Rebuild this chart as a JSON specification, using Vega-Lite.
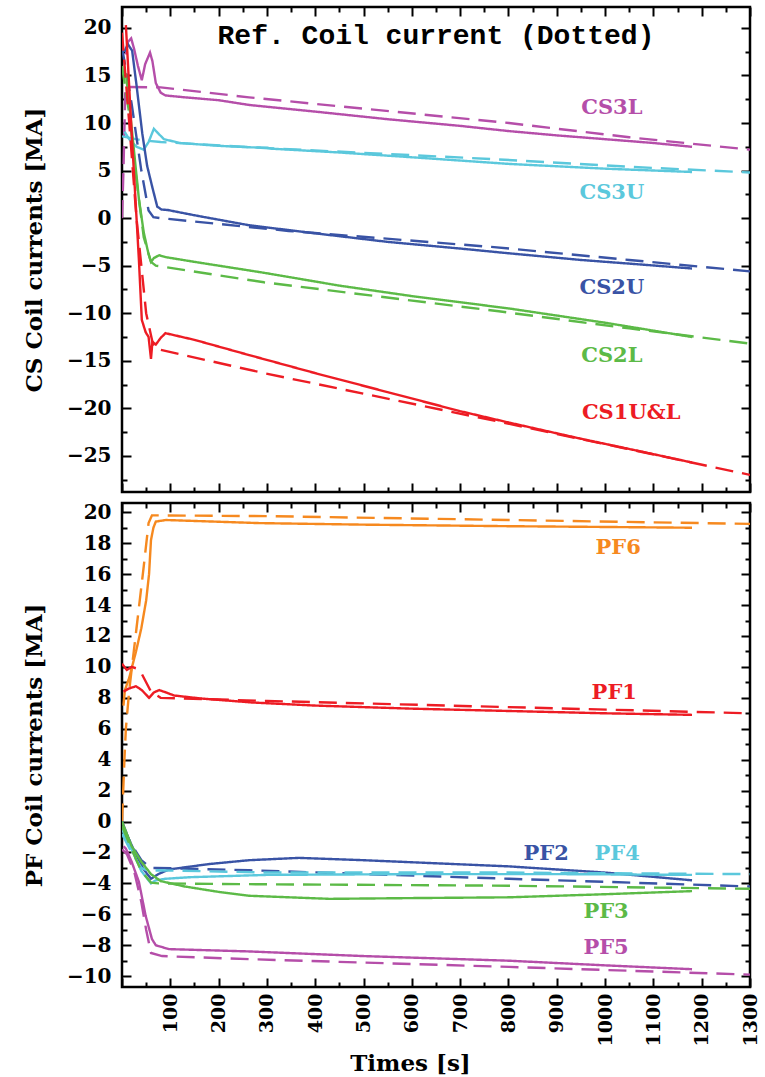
{
  "$schema": "https://vega.github.io/schema/vega-lite/v6.json",
  "padding": {"left": 22, "top": 4, "right": 5, "bottom": 5},
  "background": "white",
  "config": {
    "view": {"stroke": "black", "strokeWidth": 2.5},
    "axis": {"domain": false, "grid": false, "labelFont": "DejaVu Serif", "labelFontWeight": "bold", "labelFontSize": 20, "labelColor": "black", "titleFont": "DejaVu Serif", "titleFontWeight": "bold", "titleFontSize": 23, "titleColor": "black", "tickColor": "black", "tickWidth": 2, "labelFlush": false, "labelOverlap": false},
    "text": {"font": "DejaVu Serif", "fontWeight": "bold", "fontSize": 21}
  },
  "datasets": {
    "cs": [
      {"coil":"CS3L","kind":"sim","t":8,"v":17.2},{"coil":"CS3L","kind":"sim","t":12,"v":18.5},{"coil":"CS3L","kind":"sim","t":19,"v":18.9},{"coil":"CS3L","kind":"sim","t":25,"v":17.8},{"coil":"CS3L","kind":"sim","t":33,"v":16},{"coil":"CS3L","kind":"sim","t":41,"v":14.5},{"coil":"CS3L","kind":"sim","t":48,"v":16.2},{"coil":"CS3L","kind":"sim","t":58,"v":17.4},{"coil":"CS3L","kind":"sim","t":63,"v":16.5},{"coil":"CS3L","kind":"sim","t":70,"v":14.2},{"coil":"CS3L","kind":"sim","t":80,"v":13.2},{"coil":"CS3L","kind":"sim","t":90,"v":12.9},{"coil":"CS3L","kind":"sim","t":130,"v":12.7},{"coil":"CS3L","kind":"sim","t":200,"v":12.4},{"coil":"CS3L","kind":"sim","t":263,"v":11.9},{"coil":"CS3L","kind":"sim","t":400,"v":11.2},{"coil":"CS3L","kind":"sim","t":550,"v":10.4},{"coil":"CS3L","kind":"sim","t":700,"v":9.7},{"coil":"CS3L","kind":"sim","t":801,"v":9.15},{"coil":"CS3L","kind":"sim","t":900,"v":8.7},{"coil":"CS3L","kind":"sim","t":1000,"v":8.3},{"coil":"CS3L","kind":"sim","t":1100,"v":7.9},{"coil":"CS3L","kind":"sim","t":1180,"v":7.5},
      {"coil":"CS3L","kind":"ref","t":0,"v":0},{"coil":"CS3L","kind":"ref","t":3,"v":5},{"coil":"CS3L","kind":"ref","t":7,"v":13.8},{"coil":"CS3L","kind":"ref","t":80,"v":13.75},{"coil":"CS3L","kind":"ref","t":263,"v":12.7},{"coil":"CS3L","kind":"ref","t":801,"v":10.0},{"coil":"CS3L","kind":"ref","t":1050,"v":8.5},{"coil":"CS3L","kind":"ref","t":1300,"v":7.2},
      {"coil":"CS3U","kind":"sim","t":5,"v":9.1},{"coil":"CS3U","kind":"sim","t":15,"v":8.3},{"coil":"CS3U","kind":"sim","t":30,"v":7.5},{"coil":"CS3U","kind":"sim","t":45,"v":7.2},{"coil":"CS3U","kind":"sim","t":55,"v":8},{"coil":"CS3U","kind":"sim","t":66,"v":9.4},{"coil":"CS3U","kind":"sim","t":75,"v":8.9},{"coil":"CS3U","kind":"sim","t":87,"v":8.3},{"coil":"CS3U","kind":"sim","t":120,"v":7.9},{"coil":"CS3U","kind":"sim","t":200,"v":7.6},{"coil":"CS3U","kind":"sim","t":263,"v":7.45},{"coil":"CS3U","kind":"sim","t":300,"v":7.4},{"coil":"CS3U","kind":"sim","t":310,"v":7.3},{"coil":"CS3U","kind":"sim","t":450,"v":6.9},{"coil":"CS3U","kind":"sim","t":600,"v":6.4},{"coil":"CS3U","kind":"sim","t":801,"v":5.7},{"coil":"CS3U","kind":"sim","t":1000,"v":5.2},{"coil":"CS3U","kind":"sim","t":1180,"v":4.85},
      {"coil":"CS3U","kind":"ref","t":0,"v":8.6},{"coil":"CS3U","kind":"ref","t":40,"v":8.2},{"coil":"CS3U","kind":"ref","t":80,"v":8.0},{"coil":"CS3U","kind":"ref","t":305,"v":7.35},{"coil":"CS3U","kind":"ref","t":770,"v":6.2},{"coil":"CS3U","kind":"ref","t":1050,"v":5.4},{"coil":"CS3U","kind":"ref","t":1300,"v":4.8},
      {"coil":"CS2U","kind":"sim","t":5,"v":17.5},{"coil":"CS2U","kind":"sim","t":12,"v":18.3},{"coil":"CS2U","kind":"sim","t":21,"v":17.6},{"coil":"CS2U","kind":"sim","t":30,"v":14},{"coil":"CS2U","kind":"sim","t":42,"v":8.9},{"coil":"CS2U","kind":"sim","t":52,"v":5.5},{"coil":"CS2U","kind":"sim","t":63,"v":3.2},{"coil":"CS2U","kind":"sim","t":73,"v":1.2},{"coil":"CS2U","kind":"sim","t":82,"v":0.9},{"coil":"CS2U","kind":"sim","t":95,"v":0.85},{"coil":"CS2U","kind":"sim","t":150,"v":0.3},{"coil":"CS2U","kind":"sim","t":263,"v":-0.75},{"coil":"CS2U","kind":"sim","t":400,"v":-1.6},{"coil":"CS2U","kind":"sim","t":550,"v":-2.5},{"coil":"CS2U","kind":"sim","t":700,"v":-3.2},{"coil":"CS2U","kind":"sim","t":801,"v":-3.7},{"coil":"CS2U","kind":"sim","t":950,"v":-4.4},{"coil":"CS2U","kind":"sim","t":1080,"v":-4.9},{"coil":"CS2U","kind":"sim","t":1180,"v":-5.3},
      {"coil":"CS2U","kind":"ref","t":0,"v":18},{"coil":"CS2U","kind":"ref","t":20,"v":12},{"coil":"CS2U","kind":"ref","t":40,"v":5},{"coil":"CS2U","kind":"ref","t":55,"v":0.8},{"coil":"CS2U","kind":"ref","t":65,"v":0.1},{"coil":"CS2U","kind":"ref","t":80,"v":0},{"coil":"CS2U","kind":"ref","t":345,"v":-1.35},{"coil":"CS2U","kind":"ref","t":770,"v":-3.05},{"coil":"CS2U","kind":"ref","t":1050,"v":-4.4},{"coil":"CS2U","kind":"ref","t":1300,"v":-5.6},
      {"coil":"CS2L","kind":"sim","t":8,"v":15.2},{"coil":"CS2L","kind":"sim","t":15,"v":12},{"coil":"CS2L","kind":"sim","t":25,"v":7},{"coil":"CS2L","kind":"sim","t":35,"v":2},{"coil":"CS2L","kind":"sim","t":45,"v":-1.5},{"coil":"CS2L","kind":"sim","t":55,"v":-3.8},{"coil":"CS2L","kind":"sim","t":60,"v":-4.6},{"coil":"CS2L","kind":"sim","t":66,"v":-4.2},{"coil":"CS2L","kind":"sim","t":77,"v":-3.9},{"coil":"CS2L","kind":"sim","t":90,"v":-4.1},{"coil":"CS2L","kind":"sim","t":150,"v":-4.6},{"coil":"CS2L","kind":"sim","t":263,"v":-5.5},{"coil":"CS2L","kind":"sim","t":300,"v":-5.8},{"coil":"CS2L","kind":"sim","t":450,"v":-7.1},{"coil":"CS2L","kind":"sim","t":600,"v":-8.2},{"coil":"CS2L","kind":"sim","t":801,"v":-9.5},{"coil":"CS2L","kind":"sim","t":1000,"v":-11.0},{"coil":"CS2L","kind":"sim","t":1180,"v":-12.5},
      {"coil":"CS2L","kind":"ref","t":0,"v":16},{"coil":"CS2L","kind":"ref","t":15,"v":11},{"coil":"CS2L","kind":"ref","t":30,"v":4},{"coil":"CS2L","kind":"ref","t":45,"v":-2},{"coil":"CS2L","kind":"ref","t":60,"v":-4.6},{"coil":"CS2L","kind":"ref","t":70,"v":-5.0},{"coil":"CS2L","kind":"ref","t":294,"v":-6.75},{"coil":"CS2L","kind":"ref","t":780,"v":-9.8},{"coil":"CS2L","kind":"ref","t":1050,"v":-11.6},{"coil":"CS2L","kind":"ref","t":1300,"v":-13.2},
      {"coil":"CS1U&L","kind":"sim","t":8,"v":20.3},{"coil":"CS1U&L","kind":"sim","t":20,"v":9},{"coil":"CS1U&L","kind":"sim","t":35,"v":-4.4},{"coil":"CS1U&L","kind":"sim","t":41,"v":-10.7},{"coil":"CS1U&L","kind":"sim","t":49,"v":-12},{"coil":"CS1U&L","kind":"sim","t":55,"v":-12.5},{"coil":"CS1U&L","kind":"sim","t":60,"v":-14.8},{"coil":"CS1U&L","kind":"sim","t":63,"v":-13},{"coil":"CS1U&L","kind":"sim","t":70,"v":-13.3},{"coil":"CS1U&L","kind":"sim","t":80,"v":-12.6},{"coil":"CS1U&L","kind":"sim","t":90,"v":-12.1},{"coil":"CS1U&L","kind":"sim","t":150,"v":-12.8},{"coil":"CS1U&L","kind":"sim","t":263,"v":-14.4},{"coil":"CS1U&L","kind":"sim","t":400,"v":-16.3},{"coil":"CS1U&L","kind":"sim","t":550,"v":-18.3},{"coil":"CS1U&L","kind":"sim","t":700,"v":-20.3},{"coil":"CS1U&L","kind":"sim","t":801,"v":-21.5},{"coil":"CS1U&L","kind":"sim","t":950,"v":-23.2},{"coil":"CS1U&L","kind":"sim","t":1080,"v":-24.6},{"coil":"CS1U&L","kind":"sim","t":1180,"v":-25.7},
      {"coil":"CS1U&L","kind":"ref","t":0,"v":19.5},{"coil":"CS1U&L","kind":"ref","t":15,"v":10},{"coil":"CS1U&L","kind":"ref","t":30,"v":0},{"coil":"CS1U&L","kind":"ref","t":50,"v":-10},{"coil":"CS1U&L","kind":"ref","t":65,"v":-13.5},{"coil":"CS1U&L","kind":"ref","t":75,"v":-13.8},{"coil":"CS1U&L","kind":"ref","t":294,"v":-16.3},{"coil":"CS1U&L","kind":"ref","t":780,"v":-21.4},{"coil":"CS1U&L","kind":"ref","t":1040,"v":-24.2},{"coil":"CS1U&L","kind":"ref","t":1300,"v":-27}
    ],
    "cslab": [
      {"coil":"CS3L","t":1014,"v":11.6},{"coil":"CS3U","t":1014,"v":2.6},{"coil":"CS2U","t":1014,"v":-7.3},{"coil":"CS2L","t":1014,"v":-14.5},{"coil":"CS1U&L","t":1054,"v":-20.5}
    ],
    "pf": [
      {"coil":"PF6","kind":"sim","t":3,"v":7.5},{"coil":"PF6","kind":"sim","t":6,"v":8.5},{"coil":"PF6","kind":"sim","t":15,"v":9.3},{"coil":"PF6","kind":"sim","t":29,"v":11},{"coil":"PF6","kind":"sim","t":40,"v":12.5},{"coil":"PF6","kind":"sim","t":50,"v":14.3},{"coil":"PF6","kind":"sim","t":56,"v":16},{"coil":"PF6","kind":"sim","t":60,"v":18.2},{"coil":"PF6","kind":"sim","t":65,"v":19},{"coil":"PF6","kind":"sim","t":70,"v":19.4},{"coil":"PF6","kind":"sim","t":91,"v":19.5},{"coil":"PF6","kind":"sim","t":284,"v":19.3},{"coil":"PF6","kind":"sim","t":500,"v":19.2},{"coil":"PF6","kind":"sim","t":800,"v":19.1},{"coil":"PF6","kind":"sim","t":1000,"v":19.05},{"coil":"PF6","kind":"sim","t":1180,"v":19.0},
      {"coil":"PF6","kind":"ref","t":0,"v":0},{"coil":"PF6","kind":"ref","t":5,"v":4},{"coil":"PF6","kind":"ref","t":8,"v":6},{"coil":"PF6","kind":"ref","t":15,"v":8.5},{"coil":"PF6","kind":"ref","t":30,"v":12.5},{"coil":"PF6","kind":"ref","t":45,"v":16.5},{"coil":"PF6","kind":"ref","t":55,"v":19.3},{"coil":"PF6","kind":"ref","t":62,"v":19.8},{"coil":"PF6","kind":"ref","t":300,"v":19.75},{"coil":"PF6","kind":"ref","t":800,"v":19.5},{"coil":"PF6","kind":"ref","t":1300,"v":19.25},
      {"coil":"PF1","kind":"sim","t":3,"v":8.4},{"coil":"PF1","kind":"sim","t":14,"v":8.6},{"coil":"PF1","kind":"sim","t":29,"v":8.75},{"coil":"PF1","kind":"sim","t":41,"v":8.5},{"coil":"PF1","kind":"sim","t":56,"v":8.0},{"coil":"PF1","kind":"sim","t":66,"v":8.35},{"coil":"PF1","kind":"sim","t":77,"v":8.5},{"coil":"PF1","kind":"sim","t":91,"v":8.35},{"coil":"PF1","kind":"sim","t":108,"v":8.15},{"coil":"PF1","kind":"sim","t":166,"v":7.95},{"coil":"PF1","kind":"sim","t":269,"v":7.7},{"coil":"PF1","kind":"sim","t":400,"v":7.5},{"coil":"PF1","kind":"sim","t":600,"v":7.3},{"coil":"PF1","kind":"sim","t":800,"v":7.15},{"coil":"PF1","kind":"sim","t":1000,"v":7.0},{"coil":"PF1","kind":"sim","t":1180,"v":6.9},
      {"coil":"PF1","kind":"ref","t":0,"v":10.2},{"coil":"PF1","kind":"ref","t":10,"v":9.8},{"coil":"PF1","kind":"ref","t":20,"v":10.0},{"coil":"PF1","kind":"ref","t":30,"v":9.9},{"coil":"PF1","kind":"ref","t":40,"v":9.6},{"coil":"PF1","kind":"ref","t":60,"v":8.4},{"coil":"PF1","kind":"ref","t":80,"v":8.0},{"coil":"PF1","kind":"ref","t":300,"v":7.8},{"coil":"PF1","kind":"ref","t":800,"v":7.4},{"coil":"PF1","kind":"ref","t":1300,"v":7.0},
      {"coil":"PF2","kind":"sim","t":0,"v":0},{"coil":"PF2","kind":"sim","t":15,"v":-1.2},{"coil":"PF2","kind":"sim","t":30,"v":-2.2},{"coil":"PF2","kind":"sim","t":45,"v":-3.1},{"coil":"PF2","kind":"sim","t":60,"v":-3.7},{"coil":"PF2","kind":"sim","t":75,"v":-3.4},{"coil":"PF2","kind":"sim","t":97,"v":-3.1},{"coil":"PF2","kind":"sim","t":180,"v":-2.75},{"coil":"PF2","kind":"sim","t":263,"v":-2.5},{"coil":"PF2","kind":"sim","t":366,"v":-2.35},{"coil":"PF2","kind":"sim","t":500,"v":-2.5},{"coil":"PF2","kind":"sim","t":650,"v":-2.7},{"coil":"PF2","kind":"sim","t":801,"v":-2.9},{"coil":"PF2","kind":"sim","t":1000,"v":-3.3},{"coil":"PF2","kind":"sim","t":1180,"v":-3.8},
      {"coil":"PF2","kind":"ref","t":0,"v":-0.3},{"coil":"PF2","kind":"ref","t":20,"v":-1.5},{"coil":"PF2","kind":"ref","t":40,"v":-2.5},{"coil":"PF2","kind":"ref","t":60,"v":-3.0},{"coil":"PF2","kind":"ref","t":70,"v":-3.0},{"coil":"PF2","kind":"ref","t":263,"v":-3.15},{"coil":"PF2","kind":"ref","t":801,"v":-3.7},{"coil":"PF2","kind":"ref","t":1300,"v":-4.2},
      {"coil":"PF4","kind":"sim","t":0,"v":-0.5},{"coil":"PF4","kind":"sim","t":20,"v":-1.8},{"coil":"PF4","kind":"sim","t":40,"v":-3.2},{"coil":"PF4","kind":"sim","t":60,"v":-4.0},{"coil":"PF4","kind":"sim","t":70,"v":-3.8},{"coil":"PF4","kind":"sim","t":90,"v":-3.7},{"coil":"PF4","kind":"sim","t":140,"v":-3.6},{"coil":"PF4","kind":"sim","t":300,"v":-3.45},{"coil":"PF4","kind":"sim","t":600,"v":-3.4},{"coil":"PF4","kind":"sim","t":900,"v":-3.4},{"coil":"PF4","kind":"sim","t":1180,"v":-3.45},
      {"coil":"PF4","kind":"ref","t":0,"v":-0.8},{"coil":"PF4","kind":"ref","t":20,"v":-2.0},{"coil":"PF4","kind":"ref","t":40,"v":-3.0},{"coil":"PF4","kind":"ref","t":55,"v":-3.2},{"coil":"PF4","kind":"ref","t":75,"v":-3.15},{"coil":"PF4","kind":"ref","t":300,"v":-3.3},{"coil":"PF4","kind":"ref","t":800,"v":-3.3},{"coil":"PF4","kind":"ref","t":1300,"v":-3.4},
      {"coil":"PF3","kind":"sim","t":0,"v":0},{"coil":"PF3","kind":"sim","t":20,"v":-1.6},{"coil":"PF3","kind":"sim","t":40,"v":-2.6},{"coil":"PF3","kind":"sim","t":60,"v":-3.4},{"coil":"PF3","kind":"sim","t":80,"v":-3.85},{"coil":"PF3","kind":"sim","t":130,"v":-4.2},{"coil":"PF3","kind":"sim","t":200,"v":-4.55},{"coil":"PF3","kind":"sim","t":263,"v":-4.8},{"coil":"PF3","kind":"sim","t":430,"v":-5.0},{"coil":"PF3","kind":"sim","t":600,"v":-4.95},{"coil":"PF3","kind":"sim","t":801,"v":-4.9},{"coil":"PF3","kind":"sim","t":1000,"v":-4.7},{"coil":"PF3","kind":"sim","t":1180,"v":-4.5},
      {"coil":"PF3","kind":"ref","t":0,"v":-0.3},{"coil":"PF3","kind":"ref","t":20,"v":-1.8},{"coil":"PF3","kind":"ref","t":40,"v":-3.2},{"coil":"PF3","kind":"ref","t":60,"v":-3.95},{"coil":"PF3","kind":"ref","t":75,"v":-4.0},{"coil":"PF3","kind":"ref","t":263,"v":-4.05},{"coil":"PF3","kind":"ref","t":801,"v":-4.15},{"coil":"PF3","kind":"ref","t":1300,"v":-4.35},
      {"coil":"PF5","kind":"sim","t":3,"v":-1.6},{"coil":"PF5","kind":"sim","t":8,"v":-1.75},{"coil":"PF5","kind":"sim","t":20,"v":-2.6},{"coil":"PF5","kind":"sim","t":35,"v":-3.9},{"coil":"PF5","kind":"sim","t":49,"v":-6.1},{"coil":"PF5","kind":"sim","t":62,"v":-7.6},{"coil":"PF5","kind":"sim","t":70,"v":-8.0},{"coil":"PF5","kind":"sim","t":97,"v":-8.25},{"coil":"PF5","kind":"sim","t":263,"v":-8.4},{"coil":"PF5","kind":"sim","t":500,"v":-8.7},{"coil":"PF5","kind":"sim","t":801,"v":-9.0},{"coil":"PF5","kind":"sim","t":1000,"v":-9.3},{"coil":"PF5","kind":"sim","t":1180,"v":-9.55},
      {"coil":"PF5","kind":"ref","t":0,"v":-1.8},{"coil":"PF5","kind":"ref","t":10,"v":-2.1},{"coil":"PF5","kind":"ref","t":25,"v":-3.2},{"coil":"PF5","kind":"ref","t":40,"v":-5.2},{"coil":"PF5","kind":"ref","t":50,"v":-7.0},{"coil":"PF5","kind":"ref","t":60,"v":-8.5},{"coil":"PF5","kind":"ref","t":83,"v":-8.7},{"coil":"PF5","kind":"ref","t":263,"v":-8.9},{"coil":"PF5","kind":"ref","t":801,"v":-9.4},{"coil":"PF5","kind":"ref","t":1300,"v":-9.9}
    ],
    "pflab": [
      {"coil":"PF6","t":1027,"v":17.7},{"coil":"PF1","t":1019,"v":8.34},{"coil":"PF2","t":878,"v":-2.08},{"coil":"PF4","t":1025,"v":-2.08},{"coil":"PF3","t":1002,"v":-5.86},{"coil":"PF5","t":1002,"v":-8.2}
    ]
  },
  "spacing": 5,
  "resolve": {"scale": {"color": "independent"}},
  "vconcat": [
    {
      "width": 628,
      "height": 485,
      "title": {"text": "Ref. Coil current (Dotted)", "font": "Liberation Mono", "fontWeight": "bold", "fontSize": 28, "offset": -44, "anchor": "middle", "color": "black"},
      "resolve": {"axis": {"x": "independent", "y": "independent"}},
      "layer": [
        {
          "data": {"name": "cs"},
          "mark": {"type": "line", "strokeWidth": 2.4, "clip": true},
          "encoding": {
            "x": {"field": "t", "type": "quantitative", "scale": {"domain": [0, 1300], "nice": false, "zero": false},
              "axis": {"values": [0,50,100,150,200,250,300,350,400,450,500,550,600,650,700,750,800,850,900,950,1000,1050,1100,1150,1200,1250,1300], "labels": false, "title": null,
                "tickSize": {"condition": {"test": "datum.value % 100 === 0", "value": -9}, "value": -5}}},
            "y": {"field": "v", "type": "quantitative", "scale": {"domain": [-28.8, 22.2], "nice": false, "zero": false},
              "axis": {"values": [-27.5,-25,-22.5,-20,-17.5,-15,-12.5,-10,-7.5,-5,-2.5,0,2.5,5,7.5,10,12.5,15,17.5,20],
                "labelExpr": "datum.value % 5 === 0 ? datum.label : ''", "labelPadding": 20, "title": "CS Coil currents [MA]", "titlePadding": 20,
                "tickSize": {"condition": {"test": "datum.value % 5 === 0", "value": -9}, "value": -5}}},
            "color": {"field": "coil", "type": "nominal", "scale": {"domain": ["CS3L","CS3U","CS2U","CS2L","CS1U&L"], "range": ["#b54ea9","#5bc8dc","#3953a5","#5cba47","#ed1c24"]}, "legend": null},
            "strokeDash": {"field": "kind", "type": "nominal", "scale": {"domain": ["sim","ref"], "range": [[1,0],[18,9]]}, "legend": null}
          }
        },
        {
          "data": {"name": "cslab"},
          "mark": {"type": "text", "align": "center", "baseline": "middle"},
          "encoding": {
            "x": {"field": "t", "type": "quantitative",
              "axis": {"orient": "top", "values": [0,50,100,150,200,250,300,350,400,450,500,550,600,650,700,750,800,850,900,950,1000,1050,1100,1150,1200,1250,1300], "labels": false, "title": null,
                "tickSize": {"condition": {"test": "datum.value % 100 === 0", "value": -9}, "value": -5}}},
            "y": {"field": "v", "type": "quantitative",
              "axis": {"orient": "right", "values": [-27.5,-25,-22.5,-20,-17.5,-15,-12.5,-10,-7.5,-5,-2.5,0,2.5,5,7.5,10,12.5,15,17.5,20], "labels": false, "title": null,
                "tickSize": {"condition": {"test": "datum.value % 5 === 0", "value": -9}, "value": -5}}},
            "text": {"field": "coil"},
            "color": {"field": "coil", "type": "nominal", "legend": null}
          }
        }
      ]
    },
    {
      "width": 628,
      "height": 484,
      "resolve": {"axis": {"x": "independent", "y": "independent"}},
      "layer": [
        {
          "data": {"name": "pf"},
          "mark": {"type": "line", "strokeWidth": 2.4, "clip": true},
          "encoding": {
            "x": {"field": "t", "type": "quantitative", "scale": {"domain": [0, 1300], "nice": false, "zero": false},
              "axis": {"values": [0,50,100,150,200,250,300,350,400,450,500,550,600,650,700,750,800,850,900,950,1000,1050,1100,1150,1200,1250,1300], "format": "d",
                "labelExpr": "datum.value % 100 === 0 && datum.value > 0 ? datum.label : ''", "labelAngle": -90, "labelAlign": "right", "labelBaseline": "middle", "labelFontSize": 19, "labelPadding": 15,
                "title": "Times [s]", "titlePadding": 7, "titleX": 288,
                "tickSize": {"condition": {"test": "datum.value % 100 === 0", "value": -9}, "value": -5}}},
            "y": {"field": "v", "type": "quantitative", "scale": {"domain": [-10.7, 20.6], "nice": false, "zero": false},
              "axis": {"values": [-10,-9,-8,-7,-6,-5,-4,-3,-2,-1,0,1,2,3,4,5,6,7,8,9,10,11,12,13,14,15,16,17,18,19,20],
                "labelExpr": "datum.value % 2 === 0 ? datum.label : ''", "labelPadding": 20, "title": "PF Coil currents [MA]", "titlePadding": 20,
                "tickSize": {"condition": {"test": "datum.value % 2 === 0", "value": -9}, "value": -5}}},
            "color": {"field": "coil", "type": "nominal", "scale": {"domain": ["PF6","PF1","PF2","PF4","PF3","PF5"], "range": ["#f6891f","#ed1c24","#3953a5","#5bc8dc","#5cba47","#b54ea9"]}, "legend": null},
            "strokeDash": {"field": "kind", "type": "nominal", "scale": {"domain": ["sim","ref"], "range": [[1,0],[18,9]]}, "legend": null}
          }
        },
        {
          "data": {"name": "pflab"},
          "mark": {"type": "text", "align": "center", "baseline": "middle"},
          "encoding": {
            "x": {"field": "t", "type": "quantitative",
              "axis": {"orient": "top", "values": [0,50,100,150,200,250,300,350,400,450,500,550,600,650,700,750,800,850,900,950,1000,1050,1100,1150,1200,1250,1300], "labels": false, "title": null,
                "tickSize": {"condition": {"test": "datum.value % 100 === 0", "value": -9}, "value": -5}}},
            "y": {"field": "v", "type": "quantitative",
              "axis": {"orient": "right", "values": [-10,-9,-8,-7,-6,-5,-4,-3,-2,-1,0,1,2,3,4,5,6,7,8,9,10,11,12,13,14,15,16,17,18,19,20], "labels": false, "title": null,
                "tickSize": {"condition": {"test": "datum.value % 2 === 0", "value": -9}, "value": -5}}},
            "text": {"field": "coil"},
            "color": {"field": "coil", "type": "nominal", "legend": null}
          }
        }
      ]
    }
  ]
}
